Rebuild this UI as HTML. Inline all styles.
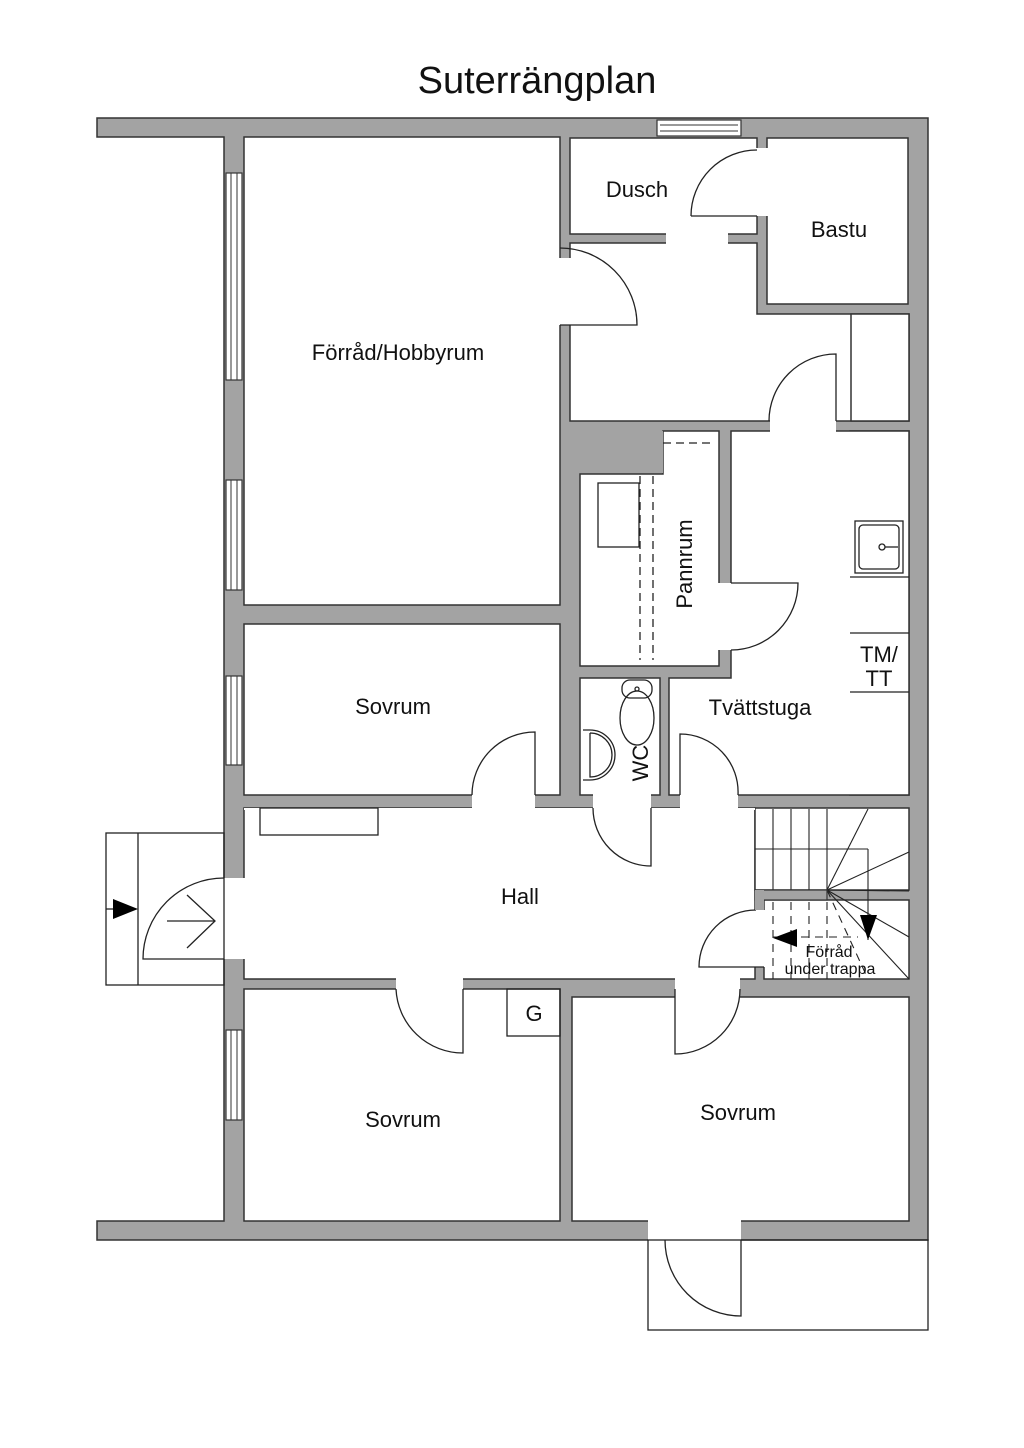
<!DOCTYPE html>
<html><head><meta charset="utf-8"><style>
html,body{margin:0;padding:0;background:#fff;}
svg{display:block;}
text{font-family:"Liberation Sans",sans-serif;fill:#111;}
</style></head><body>
<svg width="1024" height="1448" viewBox="0 0 1024 1448" xmlns="http://www.w3.org/2000/svg">
<text x="537" y="93" font-size="38" text-anchor="middle">Suterrängplan</text>

<path d="M97 118 H928 V1240 H97 V1221 H224 V137 H97 Z" fill="#a3a3a3" stroke="#333" stroke-width="1.5"/>

<g fill="#fff" stroke="#333" stroke-width="1.5">
<rect x="244" y="137" width="316" height="468"/>
<rect x="244" y="624" width="316" height="171"/>
<rect x="570" y="138" width="187" height="96"/>
<rect x="767" y="138" width="141" height="166"/>
<path d="M570 243 H757 V314 H909 V421 H570 Z"/>
<rect x="850" y="431" width="59" height="364" fill="none"/>
<path d="M580 474 H663 V431 H719 V666 H580 Z"/>
<path d="M731 431 H909 V795 H669 V678 H731 Z"/>
<rect x="580" y="678" width="80" height="117"/>
<rect x="244" y="808" width="511" height="171"/>
<rect x="755" y="808" width="154" height="82"/>
<path d="M764 900 H909 V979 H764 Z"/>
<rect x="244" y="989" width="316" height="232"/>
<rect x="572" y="997" width="337" height="224"/>
</g>
<rect x="570" y="431" width="93" height="42" fill="#a3a3a3"/>
<rect x="851" y="314" width="58" height="107" fill="#fff" stroke="#333" stroke-width="1.5"/>

<g fill="#fff">
<rect x="756" y="148" width="12.5" height="68"/>
<rect x="666" y="232" width="62" height="12.5"/>
<rect x="559" y="258" width="12" height="67"/>
<rect x="770" y="420" width="66" height="12"/>
<rect x="718" y="583" width="14" height="67"/>
<rect x="472" y="794" width="63" height="15"/>
<rect x="593" y="794" width="58" height="15"/>
<rect x="680" y="794" width="58" height="15"/>
<rect x="223" y="878" width="22" height="81"/>
<rect x="754" y="910" width="11" height="57"/>
<rect x="396" y="978" width="67" height="12"/>
<rect x="675" y="978" width="65" height="20"/>
<rect x="648" y="1220" width="93" height="21"/>
<rect x="244" y="808" width="511" height="2"/>
</g>

<g fill="none" stroke="#222" stroke-width="1.3">
<path d="M691 216 H757 M691 216 A66 66 0 0 1 757 150"/>
<path d="M560 325 H637 A77 77 0 0 0 560 248"/>
<path d="M836 421 V354 A67 67 0 0 0 769 421"/>
<path d="M731 583 H798 A67 67 0 0 1 731 650"/>
<path d="M535 795 V732 A63 63 0 0 0 472 795"/>
<path d="M651 808 V866 A58 58 0 0 1 593 808"/>
<path d="M680 795 V734 A58 58 0 0 1 738 795"/>
<path d="M224 959 H143 A81 81 0 0 1 224 878"/>
<path d="M764 967 H699 A57 57 0 0 1 756 910"/>
<path d="M463 989 V1053 A67 67 0 0 1 396 989"/>
<path d="M675 989 V1054 A65 65 0 0 0 740 989"/>
<path d="M741 1240 V1316 A76 76 0 0 1 665 1240"/>
<rect x="106" y="833" width="118" height="152"/>
<line x1="138" y1="833" x2="138" y2="985"/>
<rect x="648" y="1240" width="280" height="90"/>
<line x1="167" y1="921" x2="215" y2="921"/>
<path d="M187 895 L215 921 L187 948"/>
<line x1="106" y1="909" x2="116" y2="909"/>
<rect x="260" y="808" width="118" height="27"/>
<rect x="507" y="989" width="53" height="47"/>
<line x1="850" y1="577" x2="909" y2="577"/>
<line x1="850" y1="633" x2="909" y2="633"/>
<line x1="850" y1="692" x2="909" y2="692"/>
<rect x="855" y="521" width="48" height="52"/>
<rect x="859" y="525" width="40" height="44" rx="4"/>
<circle cx="882" cy="547" r="3"/>
<line x1="885" y1="547" x2="898" y2="547"/>
<rect x="598" y="483" width="41" height="64"/>
<g stroke-dasharray="8 5">
<line x1="640" y1="476" x2="640" y2="660"/>
<line x1="653" y1="476" x2="653" y2="660"/>
<line x1="663" y1="443" x2="712" y2="443"/>
</g>
<ellipse cx="637" cy="718" rx="17" ry="27"/>
<rect x="622" y="680" width="30" height="18" rx="8"/>
<circle cx="637" cy="689" r="2"/>
<path d="M583 730 L590 730 A25 25 0 0 1 590 780 L583 780"/>
<path d="M590 733 A22 22 0 0 1 590 777 L590 733"/>
<g stroke-width="1.1">
<line x1="773" y1="809" x2="773" y2="890"/>
<line x1="791" y1="809" x2="791" y2="890"/>
<line x1="809" y1="809" x2="809" y2="890"/>
<line x1="827" y1="809" x2="827" y2="890"/>
<line x1="755" y1="849" x2="868" y2="849"/>
<line x1="868" y1="849" x2="868" y2="940"/>
<line x1="827" y1="890" x2="868" y2="809"/>
<line x1="827" y1="890" x2="909" y2="852"/>
<line x1="827" y1="890" x2="909" y2="891"/>
<line x1="827" y1="890" x2="909" y2="937"/>
<line x1="827" y1="890" x2="909" y2="979"/>
<g stroke-dasharray="8 6">
<line x1="773" y1="902" x2="773" y2="979"/>
<line x1="791" y1="902" x2="791" y2="979"/>
<line x1="809" y1="902" x2="809" y2="979"/>
<line x1="827" y1="902" x2="827" y2="979"/>
<line x1="827" y1="890" x2="868" y2="979"/>
<line x1="773" y1="937" x2="858" y2="937"/>
</g>
</g>
</g>
<rect x="755" y="890" width="72" height="10" fill="#a3a3a3" stroke="#333" stroke-width="1.2"/>
<rect x="755" y="890" width="9" height="20" fill="#a3a3a3"/>
<polygon points="860,915 877,915 868,940" fill="#000"/>
<polygon points="773,938 797,929 797,947" fill="#000"/>
<polygon points="113,899 138,909 113,919" fill="#000"/>

<g fill="#fff" stroke="#333" stroke-width="1.2">
<rect x="226" y="173" width="16" height="207"/>
<rect x="226" y="480" width="16" height="110"/>
<rect x="226" y="676" width="16" height="89"/>
<rect x="226" y="1030" width="16" height="90"/>
<rect x="657" y="120" width="84" height="16"/>
</g>
<g stroke="#333" stroke-width="1">
<line x1="231" y1="173" x2="231" y2="380"/><line x1="237" y1="173" x2="237" y2="380"/>
<line x1="231" y1="480" x2="231" y2="590"/><line x1="237" y1="480" x2="237" y2="590"/>
<line x1="231" y1="676" x2="231" y2="765"/><line x1="237" y1="676" x2="237" y2="765"/>
<line x1="231" y1="1030" x2="231" y2="1120"/><line x1="237" y1="1030" x2="237" y2="1120"/>
<line x1="660" y1="125" x2="738" y2="125"/><line x1="660" y1="131" x2="738" y2="131"/>
</g>

<g font-size="22" text-anchor="middle">
<text x="398" y="360">Förråd/Hobbyrum</text>
<text x="637" y="197">Dusch</text>
<text x="839" y="237">Bastu</text>
<text x="393" y="714">Sovrum</text>
<text x="760" y="715">Tvättstuga</text>
<text x="520" y="904">Hall</text>
<text x="403" y="1127">Sovrum</text>
<text x="738" y="1120">Sovrum</text>
<text x="534" y="1021">G</text>
<text x="879" y="662">TM/</text>
<text x="879" y="686">TT</text>
<text transform="translate(692,564) rotate(-90)">Pannrum</text>
<text transform="translate(648,763) rotate(-90)">WC</text>
</g>
<g font-size="16" text-anchor="middle">
<text x="829" y="957">Förråd</text>
<text x="830" y="974">under trappa</text>
</g>
</svg>
</body></html>
